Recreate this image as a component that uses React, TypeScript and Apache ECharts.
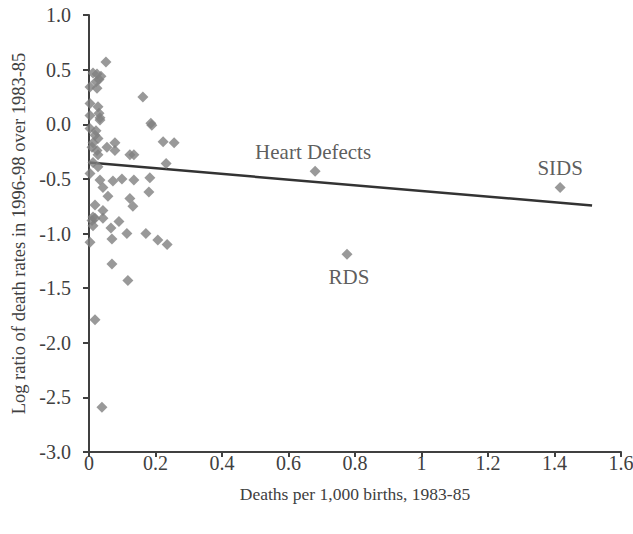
import React, { useEffect, useRef } from "react";
import * as echarts from "echarts";

const xTicks = [0, 0.2, 0.4, 0.6, 0.8, 1, 1.2, 1.4, 1.6];
const yTicks = [1.0, 0.5, 0.0, -0.5, -1.0, -1.5, -2.0, -2.5, -3.0];

// Unlabelled conditions: [deaths per 1,000 births 1983-85, log ratio]
const conditions: [number, number][] = [
  [0.051, 0.57], [0.024, 0.46], [0.012, 0.47], [0.030, 0.41], [0.036, 0.44],
  [0.021, 0.39], [0.003, 0.34], [0.024, 0.33], [0.003, 0.19], [0.027, 0.16],
  [0.003, 0.08], [0.030, 0.10], [0.033, 0.06], [0.162, 0.25], [0.186, 0.01],
  [0.189, -0.01], [0.033, 0.04], [0.003, -0.04], [0.018, -0.10], [0.027, -0.13],
  [0.012, -0.17], [0.054, -0.21], [0.078, -0.17], [0.078, -0.24], [0.123, -0.28],
  [0.135, -0.28], [0.027, -0.28], [0.012, -0.35], [0.027, -0.39], [0.003, -0.45],
  [0.033, -0.51], [0.072, -0.52], [0.099, -0.50], [0.135, -0.51], [0.183, -0.49],
  [0.223, -0.16], [0.256, -0.17], [0.232, -0.36], [0.042, -0.58], [0.057, -0.66],
  [0.123, -0.68], [0.132, -0.75], [0.180, -0.62], [0.018, -0.74], [0.042, -0.79],
  [0.012, -0.85], [0.009, -0.88], [0.042, -0.86], [0.018, -0.86], [0.012, -0.93],
  [0.090, -0.89], [0.066, -0.95], [0.069, -1.05], [0.114, -1.00], [0.171, -1.00],
  [0.207, -1.06], [0.235, -1.10], [0.003, -1.08], [0.069, -1.28], [0.117, -1.43],
  [0.018, -1.79], [0.039, -2.59], [0.021, -0.06], [0.009, -0.21], [0.024, -0.24],
];

const labelledNames = ["Heart Defects", "RDS", "SIDS"];
const labelledX = [0.68, 0.776, 1.417];
const labelledY = [-0.43, -1.19, -0.58];

// Linear trend line endpoints
const trendX = [0.0, 1.513];
const trendY = [-0.351, -0.743];

const FONT = "'Liberation Serif', 'Times New Roman', serif";

export default function App() {
  const ref = useRef<HTMLDivElement>(null);
  useEffect(() => {
    document.body.style.margin = "0";
    document.body.style.overflow = "hidden";
    document.documentElement.style.overflow = "hidden";
    if (!ref.current) return;
    const chart = echarts.init(ref.current, null, { renderer: "svg", width: 633, height: 534 });
    const labelOffsets: Record<string, number[]> = {
      "Heart Defects": [-2, -19],
      RDS: [2, 23],
      SIDS: [0, -20],
    };
    chart.setOption({
      animation: false,
      backgroundColor: "#ffffff",
      grid: { left: 89, right: 12, top: 15, bottom: 82, containLabel: false, outerBoundsMode: "none" },
      xAxis: {
        type: "value",
        min: 0,
        max: 1.6,
        interval: 0.2,
        name: "Deaths per 1,000 births, 1983-85",
        nameLocation: "middle",
        nameGap: 33,
        nameTextStyle: { fontFamily: FONT, fontSize: 17.5, color: "#404040" },
        axisLine: { show: true, onZero: false, lineStyle: { color: "#404040", width: 2 } },
        axisTick: { show: true, inside: false, length: 5, lineStyle: { color: "#404040", width: 2 } },
        axisLabel: {
          fontFamily: FONT,
          fontSize: 20,
          color: "#404040",
          margin: 1,
          hideOverlap: false,
          overflow: "none",
          formatter: (v: number) => {
            const t = xTicks.find((k) => Math.abs(k - v) < 1e-6);
            return t === undefined ? "" : String(t);
          },
        },
        splitLine: { show: false },
      },
      yAxis: {
        type: "value",
        min: -3,
        max: 1,
        interval: 0.5,
        name: "Log ratio of death rates in 1996-98 over 1983-85",
        nameLocation: "middle",
        nameGap: 55,
        nameTextStyle: { fontFamily: FONT, fontSize: 18.5, color: "#404040" },
        axisLine: { show: true, onZero: false, lineStyle: { color: "#404040", width: 2 } },
        axisTick: { show: true, inside: false, length: 6, lineStyle: { color: "#404040", width: 2 } },
        axisLabel: {
          fontFamily: FONT,
          fontSize: 20,
          color: "#404040",
          margin: 18,
          formatter: (v: number) => {
            const t = yTicks.find((k) => Math.abs(k - v) < 1e-6);
            return t === undefined ? "" : t.toFixed(1);
          },
        },
        splitLine: { show: false },
      },
      series: [
        {
          type: "line",
          data: trendX.map((x, i) => [x, trendY[i]]),
          showSymbol: false,
          symbol: "none",
          lineStyle: { color: "#333333", width: 2.5 },
          z: 2,
        },
        {
          type: "scatter",
          symbol: "diamond",
          symbolSize: 11,
          itemStyle: { color: "#808080" },
          data: conditions,
          z: 3,
        },
        {
          type: "scatter",
          symbol: "diamond",
          symbolSize: 11,
          itemStyle: { color: "#808080" },
          data: labelledNames.map((n, i) => ({
            name: n,
            value: [labelledX[i], labelledY[i]],
            label: {
              show: true,
              formatter: n,
              position: "inside",
              offset: labelOffsets[n],
              fontFamily: FONT,
              fontSize: 21,
              color: "#333333",
            },
          })),
          z: 3,
        },
      ],
    });
    return () => chart.dispose();
  }, []);
  return <div ref={ref} style={{ width: 633, height: 534 }} />;
}
